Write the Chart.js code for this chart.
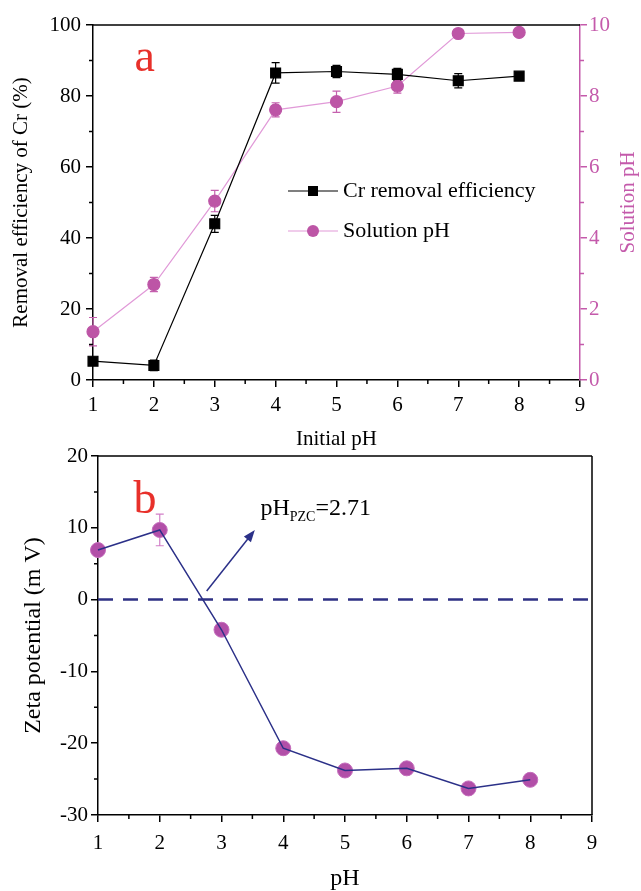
<!DOCTYPE html>
<html>
<head>
<meta charset="utf-8">
<script src="https://cdn.jsdelivr.net/npm/chart.js@4.4.0/dist/chart.umd.min.js"></script>
<style>
    html, body { margin: 0; padding: 0; background: #fff; }
    #wrap { position: relative; width: 641px; height: 891px; overflow: hidden; }
    #chart-a { position: absolute; left: 0; top: 0; }
    #chart-b { position: absolute; left: 0; top: 440px; }
</style>
</head>
<body>
<div id="wrap">
    <canvas id="chart-a" width="641" height="455" style="width:641px;height:455px"></canvas>
    <canvas id="chart-b" width="641" height="451" style="width:641px;height:451px"></canvas>
</div>
<script>
// --- dados ---
const initialPh = [1, 2, 3, 4, 5, 6, 7, 8];
const crRemoval = [5.3, 4.1, 44.0, 86.5, 86.9, 86.1, 84.3, 85.6];
const crRemovalErr = [1.0, 1.5, 2.4, 2.9, 1.7, 1.7, 2.0, 1.0];
const solutionPh = [1.36, 2.69, 5.04, 7.61, 7.84, 8.28, 9.76, 9.79];
const solutionPhErr = [0.4, 0.2, 0.3, 0.2, 0.3, 0.2, 0.05, 0.1];
const zetaPotential = [6.9, 9.7, -4.2, -20.7, -23.8, -23.5, -26.3, -25.1];
const zetaErr = [0, 2.2, 0, 0, 0, 0, 0, 0];
const zeroLevel = 0;
const pzcLabel = "2.71";
const arrowFrom = [2.76, 1.2];
const arrowTo = [3.54, 9.7];

const SERIF = '"Liberation Serif", "Times New Roman", serif';
const PINK = "#c45aab";

const toPoints = (xs, ys) => xs.map((x, i) => ({ x, y: ys[i] }));

// barras de erro desenhadas pelas escalas do Chart.js
const errorBars = {
    id: "errorBars",
    beforeDatasetsDraw(chart) {
        const ctx = chart.ctx;
        chart.data.datasets.forEach((ds, i) => {
            if (!ds.errors) return;
            const meta = chart.getDatasetMeta(i);
            const yScale = chart.scales[ds.yAxisID || "y"];
            ctx.save();
            ctx.strokeStyle = ds.errorColor;
            ctx.lineWidth = 1.2;
            meta.data.forEach((pt, j) => {
                const err = ds.errors[j];
                if (!err) return;
                const v = ds.data[j].y;
                const yTop = yScale.getPixelForValue(v + err);
                const yBot = yScale.getPixelForValue(v - err);
                ctx.beginPath();
                ctx.moveTo(pt.x, yTop); ctx.lineTo(pt.x, yBot);
                ctx.moveTo(pt.x - 4, yTop); ctx.lineTo(pt.x + 4, yTop);
                ctx.moveTo(pt.x - 4, yBot); ctx.lineTo(pt.x + 4, yBot);
                ctx.stroke();
            });
            ctx.restore();
        });
    }
};

// moldura + ticks menores (mais curtos que os principais)
const frame = {
    id: "frame",
    afterDraw(chart, args, opts) {
        const { ctx, chartArea: a } = chart;
        ctx.save();
        ctx.strokeStyle = "#000";
        ctx.lineWidth = 1.5;
        ctx.beginPath();
        ctx.moveTo(a.left, a.top); ctx.lineTo(a.right, a.top);
        if (opts.right) { ctx.moveTo(a.right, a.top); ctx.lineTo(a.right, a.bottom); }
        ctx.stroke();

        Object.values(chart.scales).forEach(s => {
            ctx.strokeStyle = s.options.border.color;
            ctx.beginPath();
            s.ticks.forEach(t => {
                if (t.label !== "") return;
                const p = s.getPixelForValue(t.value);
                if (s.isHorizontal()) { ctx.moveTo(p, s.top); ctx.lineTo(p, s.top + 4); }
                else if (s.position === "left") { ctx.moveTo(s.right, p); ctx.lineTo(s.right - 4, p); }
                else { ctx.moveTo(s.left, p); ctx.lineTo(s.left + 4, p); }
            });
            ctx.stroke();
        });
        ctx.restore();
    }
};

// tick principal só onde há rótulo
const majorTickColor = (color) => (c) => (c.tick && c.tick.label !== "") ? color : "rgba(0,0,0,0)";

// --- painel a: textos, legenda e título do eixo da direita ---
const extrasA = {
    id: "extrasA",
    afterDraw(chart) {
        const { ctx, chartArea: a, scales: { x, y } } = chart;
        ctx.save();
        ctx.fillStyle = "#e8302a";
        ctx.font = "46px " + SERIF;
        ctx.textAlign = "center";
        ctx.textBaseline = "alphabetic";
        ctx.fillText("a", x.getPixelForValue(1.85), y.getPixelForValue(87));

        // título do eixo da direita (de baixo para cima)
        ctx.save();
        ctx.translate(628, (a.top + a.bottom) / 2);
        ctx.rotate(-Math.PI / 2);
        ctx.fillStyle = PINK;
        ctx.font = "21px " + SERIF;
        ctx.textBaseline = "middle";
        ctx.fillText("Solution pH", 0, 0);
        ctx.restore();

        // legenda
        const lx = a.left + 195, ly = a.top + 166;
        const items = [
            { text: "Cr removal efficiency", line: "#000", fill: "#000", shape: "rect" },
            { text: "Solution pH", line: "#e19ad8", fill: "#bd55a6", shape: "circle" }
        ];
        items.forEach((it, k) => {
            const yy = ly + k * 40;
            ctx.strokeStyle = it.line;
            ctx.lineWidth = 1.2;
            ctx.beginPath(); ctx.moveTo(lx, yy); ctx.lineTo(lx + 50, yy); ctx.stroke();
            ctx.fillStyle = it.fill;
            if (it.shape === "rect") ctx.fillRect(lx + 20, yy - 5, 10, 10);
            else { ctx.beginPath(); ctx.arc(lx + 25, yy, 6, 0, Math.PI * 2); ctx.fill(); }
            ctx.fillStyle = "#000";
            ctx.font = "22px " + SERIF;
            ctx.textAlign = "left";
            ctx.textBaseline = "middle";
            ctx.fillText(it.text, lx + 55, yy);
        });
        ctx.restore();
    }
};

// --- painel b: letra, seta e texto do pHpzc ---
const extrasB = {
    id: "extrasB",
    afterDraw(chart) {
        const { ctx, scales: { x, y } } = chart;
        ctx.save();
        ctx.fillStyle = "#e8302a";
        ctx.font = "46px " + SERIF;
        ctx.textAlign = "center";
        ctx.fillText("b", x.getPixelForValue(1.76), y.getPixelForValue(12.1));

        // seta
        const x0 = x.getPixelForValue(arrowFrom[0]), y0 = y.getPixelForValue(arrowFrom[1]);
        const x1 = x.getPixelForValue(arrowTo[0]), y1 = y.getPixelForValue(arrowTo[1]);
        const ang = Math.atan2(y1 - y0, x1 - x0);
        ctx.strokeStyle = "#2b3088";
        ctx.fillStyle = "#2b3088";
        ctx.lineWidth = 1.5;
        ctx.beginPath(); ctx.moveTo(x0, y0); ctx.lineTo(x1 - 6 * Math.cos(ang), y1 - 6 * Math.sin(ang)); ctx.stroke();
        ctx.beginPath();
        ctx.moveTo(x1, y1);
        ctx.lineTo(x1 - 12 * Math.cos(ang) + 4.5 * Math.sin(ang), y1 - 12 * Math.sin(ang) - 4.5 * Math.cos(ang));
        ctx.lineTo(x1 - 12 * Math.cos(ang) - 4.5 * Math.sin(ang), y1 - 12 * Math.sin(ang) + 4.5 * Math.cos(ang));
        ctx.closePath(); ctx.fill();

        // texto pH_PZC=2.71
        let tx = x.getPixelForValue(3.63);
        const ty = y.getPixelForValue(11.85);
        ctx.fillStyle = "#000";
        ctx.textAlign = "left";
        ctx.textBaseline = "alphabetic";
        ctx.font = "24px " + SERIF;
        ctx.fillText("pH", tx, ty);
        tx += ctx.measureText("pH").width;
        ctx.font = "14px " + SERIF;
        ctx.fillText("PZC", tx, ty + 6);
        tx += ctx.measureText("PZC").width;
        ctx.font = "24px " + SERIF;
        ctx.fillText("=" + pzcLabel, tx, ty);
        ctx.restore();
    }
};

const tickFont = { family: SERIF, size: 21 };

// --- gráfico a ---
new Chart(document.getElementById("chart-a"), {
    type: "line",
    data: {
        datasets: [
            {
                label: "Cr removal efficiency",
                data: toPoints(initialPh, crRemoval),
                yAxisID: "y",
                borderColor: "#000",
                borderWidth: 1.2,
                pointStyle: "rect",
                pointRadius: 7,
                pointBackgroundColor: "#000",
                pointBorderColor: "#000",
                errors: crRemovalErr,
                errorColor: "#000",
                clip: false
            },
            {
                label: "Solution pH",
                data: toPoints(initialPh, solutionPh),
                yAxisID: "y1",
                borderColor: "#e19ad8",
                borderWidth: 1.2,
                pointStyle: "circle",
                pointRadius: 6,
                pointBackgroundColor: "#bd55a6",
                pointBorderColor: "#bd55a6",
                errors: solutionPhErr,
                errorColor: "#c560ae",
                clip: false
            }
        ]
    },
    options: {
        responsive: false,
        animation: false,
        layout: { padding: { top: 25, left: 0, right: 0, bottom: 0 } },
        plugins: { legend: { display: false }, tooltip: { enabled: false }, frame: { right: false } },
        scales: {
            x: {
                type: "linear", min: 1, max: 9,
                afterFit: (s) => { s.height = 75; },
                ticks: { stepSize: 0.5, autoSkip: false, maxRotation: 0, padding: 6, color: "#000", font: tickFont,
                    callback: (v) => Number.isInteger(v) ? String(v) : "" },
                grid: { drawOnChartArea: false, tickLength: 7, tickColor: majorTickColor("#000"), lineWidth: 1.5 },
                border: { color: "#000", width: 1.5 },
                title: { display: true, text: "Initial pH", color: "#000", font: { family: SERIF, size: 21 }, padding: { top: 0, bottom: 3 } }
            },
            y: {
                position: "left", min: 0, max: 100,
                afterFit: (s) => { s.width = 93; },
                ticks: { stepSize: 10, autoSkip: false, padding: 5, color: "#000", font: tickFont,
                    callback: (v) => v % 20 === 0 ? String(v) : "" },
                grid: { drawOnChartArea: false, tickLength: 7, tickColor: majorTickColor("#000"), lineWidth: 1.5 },
                border: { color: "#000", width: 1.5 },
                title: { display: true, text: "Removal efficiency of Cr (%)", color: "#000", font: { family: SERIF, size: 21 }, padding: { top: 9, bottom: 0 } }
            },
            y1: {
                position: "right", min: 0, max: 10,
                afterFit: (s) => { s.width = 61; },
                ticks: { stepSize: 1, autoSkip: false, padding: 2, color: PINK, font: tickFont,
                    callback: (v) => v % 2 === 0 ? String(v) : "" },
                grid: { drawOnChartArea: false, tickLength: 7, tickColor: majorTickColor(PINK), lineWidth: 1.5 },
                border: { color: PINK, width: 1.5 }
            }
        }
    },
    plugins: [errorBars, frame, extrasA]
});

// --- gráfico b ---
new Chart(document.getElementById("chart-b"), {
    type: "line",
    data: {
        datasets: [
            {
                label: "Zeta line",
                data: toPoints(initialPh, zetaPotential),
                borderColor: "#2b3088",
                borderWidth: 1.5,
                pointRadius: 0,
                clip: false
            },
            {
                label: "Zeta potential",
                data: toPoints(initialPh, zetaPotential),
                showLine: false,
                pointStyle: "circle",
                pointRadius: 7.5,
                pointBackgroundColor: "#b24fa8",
                pointBorderColor: "#c46cbb",
                pointBorderWidth: 1,
                errors: zetaErr,
                errorColor: "#d27fc8",
                clip: false
            },
            {
                label: "zero",
                data: [{ x: 1, y: zeroLevel }, { x: 9, y: zeroLevel }],
                borderColor: "#2e3184",
                borderWidth: 2.5,
                borderDash: [15, 10],
                pointRadius: 0
            }
        ]
    },
    options: {
        responsive: false,
        animation: false,
        layout: { padding: { top: 16, left: 0, right: 49, bottom: 0 } },
        plugins: { legend: { display: false }, tooltip: { enabled: false }, frame: { right: true } },
        scales: {
            x: {
                type: "linear", min: 1, max: 9,
                afterFit: (s) => { s.height = 76; },
                ticks: { stepSize: 0.5, autoSkip: false, maxRotation: 0, padding: 9, color: "#000", font: tickFont,
                    callback: (v) => Number.isInteger(v) ? String(v) : "" },
                grid: { drawOnChartArea: false, tickLength: 7, tickColor: majorTickColor("#000"), lineWidth: 1.5 },
                border: { color: "#000", width: 1.5 },
                title: { display: true, text: "pH", color: "#000", font: { family: SERIF, size: 24, lineHeight: 1 }, padding: { top: 0, bottom: 0 } }
            },
            y: {
                position: "left", min: -30, max: 20,
                afterFit: (s) => { s.width = 98; },
                ticks: { stepSize: 5, autoSkip: false, padding: 3, color: "#000", font: tickFont,
                    callback: (v) => v % 10 === 0 ? String(v) : "" },
                grid: { drawOnChartArea: false, tickLength: 7, tickColor: majorTickColor("#000"), lineWidth: 1.5 },
                border: { color: "#000", width: 1.5 },
                title: { display: true, text: "Zeta potential (m V)", color: "#000", font: { family: SERIF, size: 24 }, padding: { top: 19, bottom: 0 } }
            }
        }
    },
    plugins: [errorBars, frame, extrasB]
});
</script>
</body>
</html>
